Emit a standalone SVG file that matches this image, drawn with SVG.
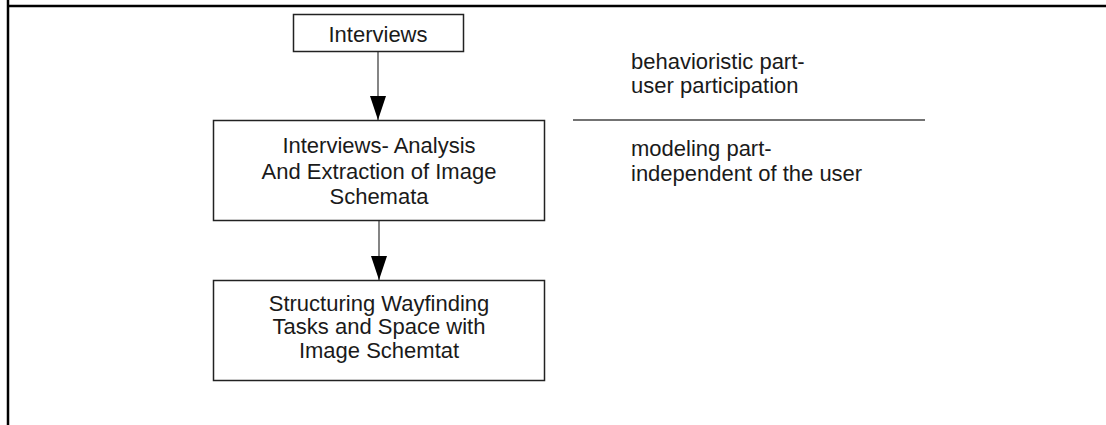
<svg xmlns="http://www.w3.org/2000/svg" width="1106" height="425" viewBox="0 0 1106 425">
<defs>
<marker id="arr" markerWidth="24" markerHeight="16" refX="24" refY="8" orient="auto" markerUnits="userSpaceOnUse" viewBox="0 0 24 16">
<path d="M0,0 L24,8 L0,16 Z" fill="#000"/>
</marker>
<style>
.box{fill:#fff;stroke:#222;stroke-width:1.5}
.t{font-family:"Liberation Sans",Arial,sans-serif;font-size:22px;fill:#1a1a1a}
.c{text-anchor:middle}
.conn{stroke:#333;stroke-width:1.2;fill:none}
.frame{stroke:#000;stroke-width:2.5;fill:none}
</style>
</defs>
<rect width="1106" height="425" fill="#fff"/>
<g id="frame">
<line class="frame" x1="8" y1="0" x2="8" y2="425"/>
<line class="frame" x1="8" y1="6" x2="1106" y2="6"/>
</g>
<g id="connectors">
<line class="conn" x1="378" y1="51" x2="378" y2="120" marker-end="url(#arr)"/>
<line class="conn" x1="379" y1="221" x2="379" y2="280" marker-end="url(#arr)"/>
<line x1="573" y1="120" x2="925" y2="120" stroke="#444" stroke-width="1.5"/>
</g>
<g id="interviews">
<rect class="box" x="293.5" y="14.5" width="170" height="37"/>
<text class="t c" x="378" y="42">Interviews</text>
</g>
<g id="analysis">
<rect class="box" x="213.5" y="120.5" width="331" height="100"/>
<text class="t c" x="379" y="153">Interviews- Analysis</text>
<text class="t c" x="379" y="179">And Extraction of Image</text>
<text class="t c" x="379" y="204">Schemata</text>
</g>
<g id="structuring">
<rect class="box" x="213.5" y="280.5" width="331" height="100"/>
<text class="t c" x="379" y="311">Structuring Wayfinding</text>
<text class="t c" x="379" y="334">Tasks and Space with</text>
<text class="t c" x="379" y="358">Image Schemtat</text>
</g>
<g id="labels">
<text class="t" x="631" y="69">behavioristic part-</text>
<text class="t" x="631" y="93">user participation</text>
<text class="t" x="631" y="156">modeling part-</text>
<text class="t" x="631" y="181">independent of the user</text>
</g>
</svg>
